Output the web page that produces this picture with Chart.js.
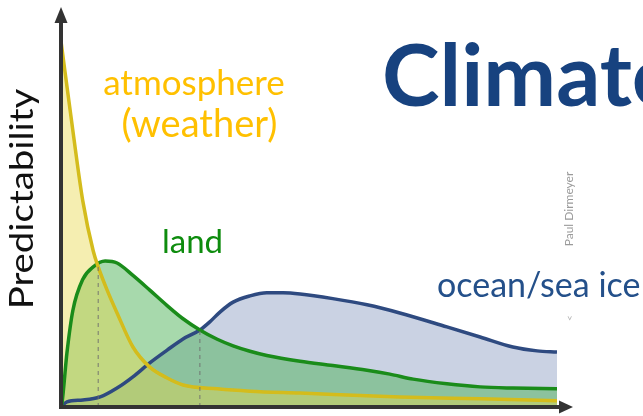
<!DOCTYPE html>
<html>
<head>
<meta charset="utf-8">
<script src="https://cdn.jsdelivr.net/npm/chart.js@4"></script>
<style>
  html, body { margin: 0; padding: 0; background: #ffffff; }
  #wrap { width: 643px; height: 416px; position: relative; }
</style>
</head>
<body>
<div id="wrap"><canvas id="c" width="643" height="416"></canvas></div>
<script>
// Lead time (0 = now, 100 = far) on x, predictability on y
const atmosphereX = [0, 2.4, 4.4, 6.5, 7.5, 9.3, 11.3, 14.5, 17.9, 21.4, 24.6, 31.5, 38.1, 48.2, 68.3, 84.5, 100];
const atmosphereY = [94.5, 71.3, 53.2, 40.3, 36.2, 30.2, 24.3, 15.5, 10.3, 7.5, 5.7, 4.7, 4.1, 3.6, 2.6, 2.1, 1.6];

const landX = [0, 0.2, 1.2, 2.4, 4.4, 6.5, 8.9, 11.3, 14.5, 17.9, 21.4, 24.6, 28, 31.5, 34.7, 38.1, 41.5, 48.2, 54.8, 61.7, 66.3, 71, 77.8, 84.5, 91.1, 100];
const landY = [0, 1, 14, 25, 33, 36.2, 37.7, 37.2, 34, 30.2, 26.2, 22.8, 19.9, 17.5, 15.8, 14.4, 13.3, 11.8, 10.7, 9.5, 8.5, 7.2, 6.0, 5.2, 4.9, 4.7];

const oceanX = [0, 1.2, 4.4, 7.9, 11.3, 14.5, 17.9, 21.4, 24.6, 28, 30, 32.1, 34.7, 38.1, 41.5, 44.8, 48.2, 54.8, 61.7, 68.3, 77.8, 84.5, 91.1, 96, 100];
const oceanY = [0, 1.3, 1.8, 2.6, 4.9, 7.8, 11.4, 14.7, 17.6, 19.9, 22, 24.6, 27.1, 28.7, 29.5, 29.5, 29.2, 28, 26.4, 24.3, 20.7, 18.1, 15.5, 14.5, 14.2];

// Where one system's curve hands over to the next
const handoverX = [7.5, 28];
const handoverY = [36.2, 19.9];

const pts = (xs, ys) => xs.map((x, i) => ({ x: x, y: ys[i] }));

const curve = (label, xs, ys, line, fill) => ({
  label: label,
  data: pts(xs, ys),
  borderColor: line,
  backgroundColor: fill,
  borderWidth: 3.5,
  pointRadius: 0,
  fill: 'origin',
  cubicInterpolationMode: 'monotone'
});

const dashed = handoverX.map((x, i) => ({
  label: 'handover ' + (i + 1),
  data: [{ x: x, y: 0 }, { x: x, y: handoverY[i] }],
  borderColor: 'rgba(110,110,110,0.9)',
  borderWidth: 1,
  borderDash: [4, 4],
  pointRadius: 0,
  fill: false
}));

// Axes with arrowheads, drawn over the curves
const arrowAxes = {
  id: 'arrowAxes',
  afterDatasetsDraw(chart) {
    const { ctx, chartArea: a } = chart;
    ctx.save();
    ctx.strokeStyle = '#333333';
    ctx.fillStyle = '#333333';
    ctx.lineWidth = 4;
    ctx.beginPath();
    ctx.moveTo(a.left, a.bottom + 2);
    ctx.lineTo(a.left, a.top + 2);
    ctx.moveTo(a.left - 2, a.bottom);
    ctx.lineTo(a.right + 4, a.bottom);
    ctx.stroke();
    // y arrow
    ctx.beginPath();
    ctx.moveTo(a.left, a.top - 13);
    ctx.lineTo(a.left - 6.5, a.top + 3);
    ctx.lineTo(a.left + 6.5, a.top + 3);
    ctx.closePath();
    ctx.fill();
    // x arrow
    ctx.beginPath();
    ctx.moveTo(a.right + 16, a.bottom);
    ctx.lineTo(a.right + 2, a.bottom - 6.5);
    ctx.lineTo(a.right + 2, a.bottom + 6.5);
    ctx.closePath();
    ctx.fill();
    ctx.restore();
  }
};

const FONT = 'Lato, "Open Sans", sans-serif';

const labels = {
  id: 'labels',
  afterDraw(chart) {
    const ctx = chart.ctx;
    ctx.save();
    ctx.textBaseline = 'alphabetic';

    // axis title
    ctx.save();
    ctx.translate(33, 199);
    ctx.rotate(-Math.PI / 2);
    ctx.scale(1.2, 1);
    ctx.textAlign = 'center';
    ctx.fillStyle = '#111111';
    ctx.font = '32px ' + FONT;
    ctx.fillText('Predictability', 0, 0);
    ctx.restore();

    ctx.textAlign = 'center';
    ctx.fillStyle = '#ffc000';
    ctx.font = '35px ' + FONT;
    ctx.fillText('atmosphere', 194, 95);
    ctx.font = '38px ' + FONT;
    ctx.fillText('(weather)', 199.5, 137);

    ctx.textAlign = 'left';
    ctx.fillStyle = '#0e8c0e';
    ctx.font = '33px ' + FONT;
    ctx.fillText('land', 162, 253);

    ctx.fillStyle = '#24508a';
    ctx.font = '34px ' + FONT;
    ctx.fillText('ocean/sea ice', 437, 297);

    ctx.fillStyle = '#17427f';
    ctx.font = 'bold 87px ' + FONT;
    ctx.fillText('Climate', 382, 106);

    // credit
    ctx.save();
    ctx.translate(573, 209);
    ctx.rotate(-Math.PI / 2);
    ctx.textAlign = 'center';
    ctx.fillStyle = '#9a9a9a';
    ctx.font = '12px ' + FONT;
    ctx.fillText('Paul Dirmeyer', 0, 0);
    ctx.restore();

    ctx.save();
    ctx.translate(573, 318);
    ctx.rotate(-Math.PI / 2);
    ctx.textAlign = 'center';
    ctx.fillStyle = '#b0b0b0';
    ctx.font = '10px ' + FONT;
    ctx.fillText('<', 0, 0);
    ctx.restore();

    ctx.restore();
  }
};

new Chart(document.getElementById('c'), {
  type: 'scatter',
  data: {
    datasets: [
      ...dashed,
      curve('atmosphere', atmosphereX, atmosphereY, '#d4bc1c', 'rgba(232,214,70,0.42)'),
      curve('land', landX, landY, '#1a8c1a', 'rgba(80,180,90,0.5)'),
      curve('ocean/sea ice', oceanX, oceanY, '#2e4a80', 'rgba(150,165,200,0.5)')
    ].map(d => Object.assign(d, { showLine: true }))
  },
  options: {
    responsive: false,
    animation: false,
    layout: { padding: { left: 61, top: 20, right: 86, bottom: 9 } },
    plugins: {
      legend: { display: false },
      tooltip: { enabled: false },
      filler: { drawTime: 'beforeDatasetsDraw' }
    },
    scales: {
      x: { type: 'linear', min: 0, max: 100, display: false },
      y: { type: 'linear', min: 0, max: 100, display: false }
    }
  },
  plugins: [arrowAxes, labels]
});
</script>
</body>
</html>
